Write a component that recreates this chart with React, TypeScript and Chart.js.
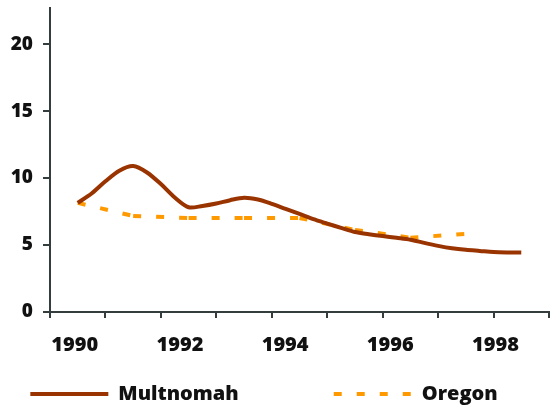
import React, { useEffect, useRef } from 'react';
import { Chart, registerables } from 'chart.js';

Chart.register(...registerables);

// Categories of the (Excel-style) category axis, one per year
const categories = ['1990', '1991', '1992', '1993', '1994', '1995', '1996', '1997', '1998'];
// Tick labels shown under the axis
const axisLabelYears = [1990, 1992, 1994, 1996, 1998];
// Y tick values
const yTickValues = [0, 5, 10, 15, 20];
// Series names
const seriesNames = ['Multnomah', 'Oregon'];
// Oregon: one value per year, 1990 .. 1997
const oregonRates = [8.15, 7.17, 7.02, 7.02, 7.02, 6.13, 5.55, 5.83];
// Multnomah: quarterly values, 1990 .. 1998
const multnomahRates = [
  8.15, 8.85, 9.76, 10.55, 10.9, 10.42, 9.55, 8.55, 7.82, 7.92, 8.1, 8.35, 8.53, 8.4, 8.08, 7.7, 7.32,
  6.93, 6.6, 6.28, 5.97, 5.81, 5.67, 5.54, 5.4, 5.16, 4.94, 4.76, 4.64, 4.56, 4.48, 4.45, 4.44,
];

const AXIS = '#333d3d';
const TEXT = '#111111';
const FONT = "'Open Sans', 'DejaVu Sans', sans-serif";
const WEIGHT = '800';
const MULT_COLOR = '#993300';
const ORE_COLOR = '#FF9900';

export default function App() {
  const ref = useRef<HTMLCanvasElement>(null);

  useEffect(() => {
    const multPts = multnomahRates.map((v, k) => ({ x: 0.5 + k * 0.25, y: v }));
    const orePts = oregonRates.map((v, i) => ({ x: i + 0.5, y: v }));

    const chart = new Chart(ref.current as HTMLCanvasElement, {
      type: 'line',
      data: {
        datasets: [
          {
            label: seriesNames[0],
            data: multPts,
            borderColor: MULT_COLOR,
            backgroundColor: MULT_COLOR,
            borderWidth: 4,
            pointRadius: 0,
            tension: 0.3,
            xAxisID: 'x',
            yAxisID: 'y',
          },
          {
            label: seriesNames[1],
            data: orePts,
            borderColor: ORE_COLOR,
            backgroundColor: ORE_COLOR,
            borderWidth: 4,
            borderDash: [8, 15],
            borderCapStyle: 'butt',
            pointRadius: 0,
            tension: 0,
            xAxisID: 'x',
            yAxisID: 'y',
            segment: {
              borderDashOffset: (c: any) => (c.p0DataIndex % 2) * 0.01,
            },
          },
        ],
      },
      options: {
        responsive: false,
        animation: false,
        layout: { padding: { top: 8, left: 0, right: 1, bottom: 0 } },
        scales: {
          x: {
            type: 'linear',
            position: 'bottom',
            weight: 0,
            min: 0,
            max: categories.length,
            afterBuildTicks: (s: any) => {
              s.ticks = categories.map((_, i) => ({ value: i })).concat([{ value: categories.length }]);
            },
            ticks: { display: false },
            grid: { drawOnChartArea: false, drawTicks: true, tickLength: 6, color: AXIS, lineWidth: 2 },
            border: { display: true, color: AXIS, width: 2 },
          },
          xl: {
            type: 'linear',
            position: 'bottom',
            weight: 1,
            min: 1989.53,
            max: 1999.017,
            afterBuildTicks: (s: any) => {
              s.ticks = axisLabelYears.map((v) => ({ value: v }));
            },
            afterFit: (s: any) => {
              s.paddingLeft = 0;
              s.paddingRight = 0;
            },
            ticks: {
              callback: (v: any) => String(v),
              padding: 27.5,
              crossAlign: 'far',
              maxRotation: 0,
              minRotation: 0,
              autoSkip: false,
              color: TEXT,
              font: { family: FONT, size: 20, weight: WEIGHT, lineHeight: '7.5px' },
            },
            grid: { display: false, drawTicks: false },
            border: { display: false },
          },
          y: {
            type: 'linear',
            position: 'left',
            min: 0,
            max: 22.7,
            afterBuildTicks: (s: any) => {
              s.ticks = yTickValues.map((v) => ({ value: v }));
            },
            afterFit: (s: any) => {
              s.width = 71;
              s.paddingTop = 0;
              s.paddingBottom = 0;
            },
            ticks: {
              padding: 10,
              color: TEXT,
              font: { family: FONT, size: 19, weight: WEIGHT },
            },
            grid: { drawOnChartArea: false, drawTicks: true, tickLength: 7, color: AXIS, lineWidth: 2 },
            border: { display: true, color: AXIS, width: 2 },
          },
        },
        plugins: {
          tooltip: { enabled: false },
          legend: {
            position: 'bottom',
            align: 'center',
            maxHeight: 26.5,
            onClick: () => {},
            labels: {
              usePointStyle: true,
              pointStyleWidth: 78,
              padding: 3.5,
              color: TEXT,
              font: { family: FONT, size: 20, weight: WEIGHT },
              generateLabels: () => [
                {
                  text: seriesNames[0],
                  fillStyle: MULT_COLOR,
                  strokeStyle: MULT_COLOR,
                  lineWidth: 4,
                  lineDash: [],
                  pointStyle: 'line',
                  fontColor: TEXT,
                  hidden: false,
                  datasetIndex: 0,
                },
                {
                  text: '',
                  fillStyle: 'rgba(0,0,0,0)',
                  strokeStyle: 'rgba(0,0,0,0)',
                  lineWidth: 0,
                  pointStyle: 'line',
                  fontColor: TEXT,
                  hidden: false,
                },
                {
                  text: seriesNames[1],
                  fillStyle: ORE_COLOR,
                  strokeStyle: ORE_COLOR,
                  lineWidth: 4,
                  lineDash: [8, 15],
                  pointStyle: 'line',
                  fontColor: TEXT,
                  hidden: false,
                  datasetIndex: 1,
                },
              ],
            },
          },
        },
      } as any,
    });
    return () => chart.destroy();
  }, []);

  return (
    <div style={{ position: 'absolute', left: -21, top: 0, width: 571, height: 407, overflow: 'hidden' }}>
      <canvas ref={ref} width={571} height={407} style={{ display: 'block' }} />
    </div>
  );
}
